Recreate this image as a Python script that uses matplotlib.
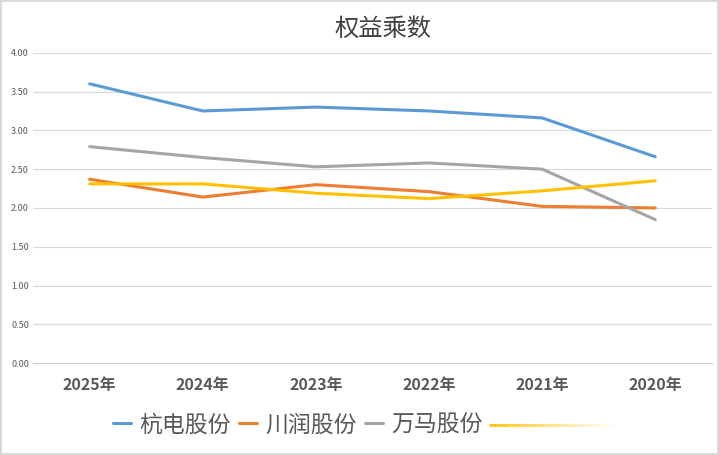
import matplotlib
matplotlib.use("Agg")
import matplotlib.pyplot as plt
import numpy as np
from matplotlib.collections import LineCollection

plt.rcParams["font.family"] = ["Noto Sans CJK SC", "DejaVu Sans"]

years = ["2025年", "2024年", "2023年", "2022年", "2021年", "2020年"]
hangdian = [3.60, 3.25, 3.30, 3.25, 3.16, 2.66]
chuanrun = [2.37, 2.14, 2.30, 2.21, 2.02, 2.00]
wanma = [2.79, 2.65, 2.53, 2.58, 2.50, 1.85]
yellow_series = [2.31, 2.31, 2.19, 2.12, 2.22, 2.35]

series = [
    ("杭电股份", hangdian, "#5B9BD5"),
    ("川润股份", chuanrun, "#ED7D31"),
    ("万马股份", wanma, "#A5A5A5"),
]


def main():
    fig = plt.figure(figsize=(7.19, 4.55), dpi=100)
    fig.patch.set_edgecolor("#D9D9D9")
    fig.patch.set_linewidth(1.5)
    ax = fig.add_axes([0.046, 0.202, 0.944, 0.682])

    x = np.arange(len(years))
    for name, vals, color in series:
        ax.plot(x, vals, color=color, lw=2.2, label=name, solid_capstyle="round")
    ax.plot(x, yellow_series, color="#FFC000", lw=2.2, solid_capstyle="round")

    ax.set_xlim(-0.5, len(years) - 0.5)
    ax.set_ylim(0, 4)
    ax.set_yticks(np.arange(0, 4.01, 0.5))
    ax.set_yticklabels([f"{v:.2f}" for v in np.arange(0, 4.01, 0.5)])
    ax.set_xticks(x)
    ax.set_xticklabels(years, fontsize=11.5, fontweight="bold", color="#595959")
    ax.tick_params(axis="y", labelsize=6.5, labelcolor="#595959", length=0, pad=3)
    ax.tick_params(axis="x", length=0, pad=10)
    ax.grid(axis="y", color="#D9D9D9", lw=0.9)
    ax.set_axisbelow(True)
    for side in ["top", "right", "left"]:
        ax.spines[side].set_visible(False)
    ax.spines["bottom"].set_color("#D0D0D0")

    fig.text(0.533, 0.936, "权益乘数", ha="center", va="center",
             fontsize=17.5, color="#404040")

    fig.legend(loc="center", bbox_to_anchor=(0.414, 0.066), ncol=3,
               frameon=False, fontsize=16.5, labelcolor="#595959",
               handlelength=0.8, handletextpad=0.35, columnspacing=0.35)

    # unnamed yellow series in the legend, drawn as a fading line
    xs = np.linspace(489 / 719, 620 / 719, 60)
    pts = np.column_stack([xs, np.full_like(xs, 0.066)])
    segs = np.stack([pts[:-1], pts[1:]], axis=1)
    alphas = np.linspace(1, 0, len(segs)) ** 1.2
    cols = [(1.0, 0.753, 0.0, a) for a in alphas]
    lc = LineCollection(segs, colors=cols, linewidths=2.2, transform=fig.transFigure)
    fig.add_artist(lc)

    fig.savefig("out.png", dpi=100, edgecolor=fig.get_edgecolor())


if __name__ == "__main__":
    main()
